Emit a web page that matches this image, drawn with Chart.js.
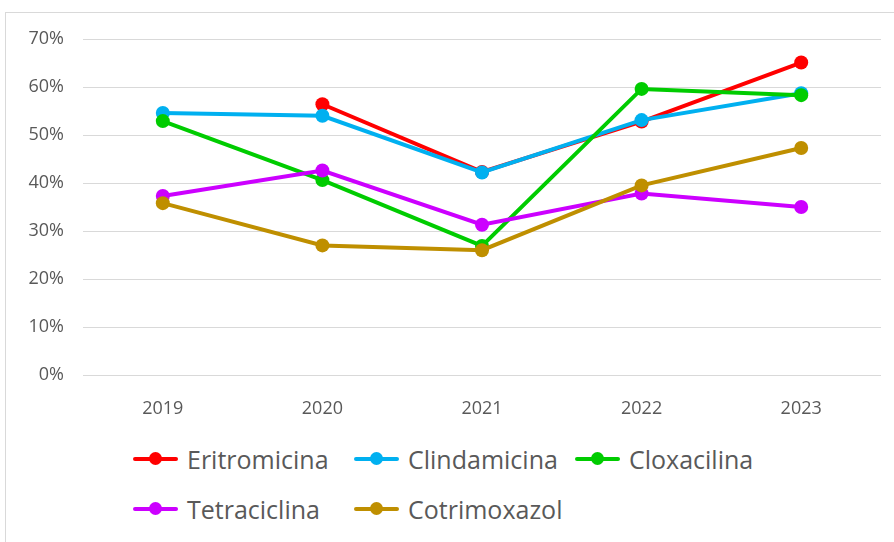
<!DOCTYPE html>
<html>
<head>
<meta charset="utf-8">
<script src="https://cdn.jsdelivr.net/npm/chart.js@4/dist/chart.umd.min.js"></script>
<style>
    body { margin: 0; background: #fff; font-family: "Open Sans", sans-serif; }
    #wrap { position: relative; width: 894px; height: 542px; overflow: hidden; }
    #frame { position: absolute; left: 5px; top: 12px; width: 900px; height: 540px; border: 1px solid #d9d9d9; box-sizing: border-box; }
    #chartBox { position: absolute; left: 0; top: 0; width: 894px; height: 430px; }
    #legend { position: absolute; left: 133px; top: 441px; display: grid; grid-template-columns: 221px 221px 221px; row-gap: 14px; }
    .item { display: flex; align-items: center; height: 36px; color: #595959; font-size: 25px; white-space: nowrap; }
    .mark { position: relative; flex: none; width: 45px; height: 14px; margin-right: 9px; }
    .mark .ln { position: absolute; left: 0; right: 0; top: 5px; height: 4px; border-radius: 2px; }
    .mark .dt { position: absolute; left: 16px; top: 0px; width: 13px; height: 13px; border-radius: 50%; }
</style>
</head>
<body>
<div id="wrap">
    <div id="frame"></div>
    <div id="chartBox"><canvas id="lineChart"></canvas></div>
    <div id="legend"></div>
</div>
<script>
// data
const years = ["2019", "2020", "2021", "2022", "2023"];
const seriesNames = ["Eritromicina", "Clindamicina", "Cloxacilina", "Tetraciclina", "Cotrimoxazol"];
const eritromicina = [null, 56.4, 42.3, 52.8, 65.1];
const clindamicina = [54.6, 54.0, 42.2, 53.1, 58.7];
const cloxacilina = [52.9, 40.6, 26.9, 59.6, 58.3];
const tetraciclina = [37.3, 42.6, 31.3, 37.8, 35.0];
const cotrimoxazol = [35.8, 27.0, 26.0, 39.5, 47.3];
const seriesColors = ["#ff0000", "#00b0f0", "#00cc00", "#cc00ff", "#bf8f00"];
const yTicks = [0, 10, 20, 30, 40, 50, 60, 70];

const allValues = [eritromicina, clindamicina, cloxacilina, tetraciclina, cotrimoxazol];

const datasets = seriesNames.map(function (name, i) {
    return {
        label: name,
        data: allValues[i],
        borderColor: seriesColors[i],
        backgroundColor: seriesColors[i],
        borderWidth: 4,
        pointRadius: 7,
        pointHoverRadius: 7,
        pointBorderWidth: 0,
        spanGaps: false,
        order: seriesNames.length - i, // later series on top, like Excel
    };
});

const tickFont = { family: '"Open Sans", sans-serif', size: 18 };

new Chart(document.getElementById("lineChart").getContext("2d"), {
    type: "line",
    data: { labels: years, datasets: datasets },
    options: {
        responsive: true,
        maintainAspectRatio: false,
        animation: false,
        layout: { padding: { top: 39, right: 13, left: 0, bottom: 0 } },
        plugins: { legend: { display: false }, tooltip: { enabled: false } },
        scales: {
            x: {
                offset: true,
                grid: { display: false },
                border: { display: false },
                ticks: { color: "#595959", font: tickFont, padding: 15, maxRotation: 0 },
                afterFit: function (scale) { scale.height = 55; },
            },
            y: {
                min: 0,
                max: 70,
                afterBuildTicks: function (scale) {
                    scale.ticks = yTicks.map(function (v) { return { value: v }; });
                },
                grid: { color: "#d9d9d9", lineWidth: 1, drawTicks: false },
                border: { display: false },
                ticks: {
                    color: "#595959",
                    font: tickFont,
                    padding: 19,
                    callback: function (v) { return v + "%"; },
                },
                afterFit: function (scale) { scale.width = 83; },
            },
        },
    },
});

// legend (Excel style: line with dot)
const legendBox = document.getElementById("legend");
seriesNames.forEach(function (name, i) {
    const item = document.createElement("div");
    item.className = "item";
    item.innerHTML = '<span class="mark"><span class="ln" style="background:' + seriesColors[i] +
        '"></span><span class="dt" style="background:' + seriesColors[i] + '"></span></span>' + name;
    legendBox.appendChild(item);
});
</script>
</body>
</html>
